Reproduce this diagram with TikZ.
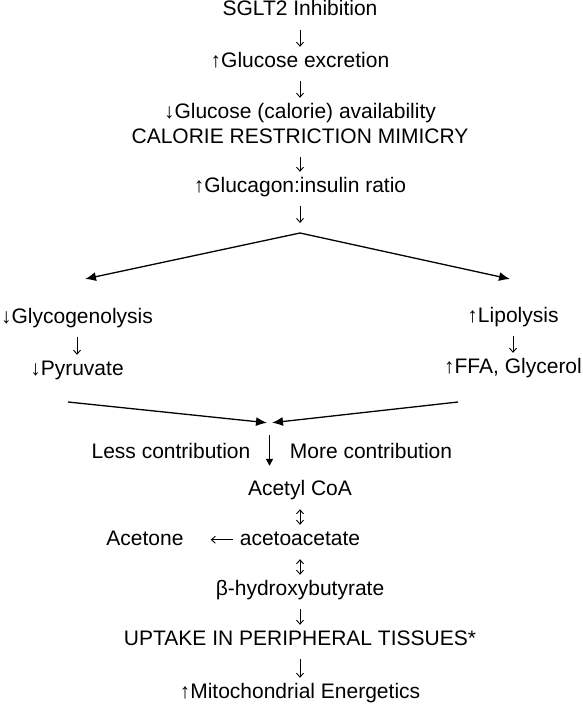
\documentclass[tikz,border=0pt]{standalone}
\usepackage{fontspec}
\setmainfont{Liberation Sans}
\usetikzlibrary{arrows.meta}

\begin{document}
\begin{tikzpicture}[x=1pt,y=-1pt,
every node/.style = {font=\fontsize{21}{25}\selectfont, anchor=base, inner sep=0pt, text height=15pt, text depth=4.5pt},
downarr/.style = {-{Straight Barb[length=4pt,width=7pt]}, line width=0.9pt, shorten <=9.5pt, shorten >=5pt},
botharr/.style = {downarr, {Straight Barb[length=4pt,width=7pt]}-{Straight Barb[length=4pt,width=7pt]}},
bigarr/.style = {-{Latex[length=11pt,width=9pt]}, line width=1.3pt},
fatarr/.style = {-{Triangle[length=7pt,width=7pt]}, line width=1.5pt}]
\useasboundingbox (0,0) rectangle (582,704);
\node (sglt) at (300,16) {SGLT2 Inhibition};
\node (excr) at (300,67) {↑Glucose excretion};
\node (avail) at (300,118) {↓Glucose (calorie) availability};
\node (crm) at (300,143) {CALORIE RESTRICTION MIMICRY};
\node (ratio) at (300,192) {↑Glucagon:insulin ratio};
\coordinate (split) at (300,233);
\coordinate (ltip) at (85,279);
\coordinate (rtip) at (510,279);
\node (glyco) at (77,323) {↓Glycogenolysis};
\node (pyr) at (77,375) {↓Pyruvate};
\node (lipo) at (513,322) {↑Lipolysis};
\node (ffa) at (513,373) {↑FFA, Glycerol};
\coordinate (lfrom) at (68,402);
\coordinate (rfrom) at (458,402);
\coordinate (meet) at (269.5,423);
\node (less) at (171,458) {Less contribution};
\node (more) at (371,458) {More contribution};
\node (acetyl) at (300,495) {Acetyl CoA};
\node (acac) at (300,545) {acetoacetate};
\node (acetone) at (145,545) {Acetone};
\node (bhb) at (300,595) {β-hydroxybutyrate};
\node (uptake) at (300,645) {UPTAKE IN PERIPHERAL TISSUES*};
\node (mito) at (300,698) {↑Mitochondrial Energetics};

\draw[downarr] (sglt) -- (excr);
\draw[downarr] (excr) -- (avail);
\draw[downarr] (crm) -- (ratio);
\draw[downarr, shorten >=10pt] (ratio) -- (split);
\draw[bigarr] (split) -- (ltip);
\draw[bigarr] (split) -- (rtip);
\draw[downarr] (glyco) -- (pyr);
\draw[downarr] (lipo) -- (ffa);
\draw[bigarr, shorten >=2.5pt] (lfrom) -- (meet);
\draw[bigarr, shorten >=2.5pt] (rfrom) -- (meet);
\draw[fatarr, shorten <=12pt, shorten >=14pt] (meet) -- (meet |- acetyl.north);
\draw[botharr] (acetyl) -- (acac);
\draw[downarr, shorten <=7pt, shorten >=27pt] (acac) -- (acetone);
\draw[botharr] (acac) -- (bhb);
\draw[downarr] (bhb) -- (uptake);
\draw[downarr] (uptake) -- (mito);
\end{tikzpicture}
\end{document}
